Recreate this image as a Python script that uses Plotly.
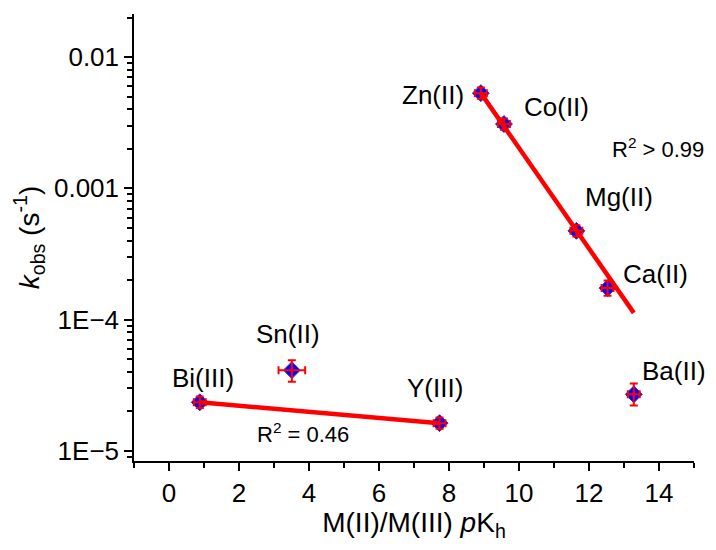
import numpy as np
import plotly.graph_objects as go

# ---- data ----
metals = ["Bi(III)", "Sn(II)", "Y(III)", "Zn(II)", "Co(II)", "Mg(II)", "Ca(II)", "Ba(II)"]
pKh = [0.88, 3.51, 7.73, 8.91, 9.57, 11.64, 12.53, 13.28]
kobs = [2.35e-5, 4.13e-5, 1.63e-5, 5.31e-3, 3.09e-3, 4.75e-4, 1.74e-4, 2.70e-5]
kobs_err_plus = [0.25e-5, 0.79e-5, 0.17e-5, 0.55e-3, 0.32e-3, 0.5e-4, 0.25e-4, 0.57e-5]
kobs_err_minus = [0.22e-5, 0.76e-5, 0.15e-5, 0.5e-3, 0.29e-3, 0.45e-4, 0.22e-4, 0.48e-5]
pKh_err = [0.17, 0.38, 0.17, 0.17, 0.17, 0.17, 0.17, 0.17]

# linear fits in log10(k) = intercept + slope * pKh
fit_hi_slope, fit_hi_intercept = -0.383, 1.138
fit_hi_x = [8.91, 13.28]
fit_lo_slope, fit_lo_intercept = -0.0232, -4.609
fit_lo_x = [0.88, 7.73]

r2_labels = ["R<sup>2</sup> &gt; 0.99", "R<sup>2</sup> = 0.46"]

x_tickvals = [0, 2, 4, 6, 8, 10, 12, 14]
y_tickvals = [1e-5, 1e-4, 1e-3, 1e-2]
y_ticktext = ["1E\u22125", "1E\u22124", "0.001", "0.01"]

# ---- annotation placement (layout) ----
label_pos = {
    "Bi(III)": (0.97, -4.447), "Sn(II)": (3.39, -4.106), "Y(III)": (7.59, -4.523),
    "Zn(II)": (7.53, -2.288), "Co(II)": (11.08, -2.379), "Mg(II)": (12.85, -3.068),
    "Ca(II)": (13.89, -3.652), "Ba(II)": (14.42, -4.394),
}
r2_pos = [(13.98, -2.689), (3.84, -4.864)]

FONT = "Liberation Sans, Arial, sans-serif"
FS = 26
FS_TITLE = 28

fig = go.Figure()

# markers
fig.add_trace(go.Scatter(
    x=pKh, y=kobs, mode="markers",
    marker=dict(symbol="diamond", size=13, color="#0000ff",
                line=dict(color="#3a2fd0", width=1)),
    showlegend=False, hoverinfo="skip"))

# error bars on top of markers
fig.add_trace(go.Scatter(
    x=pKh, y=kobs, mode="markers",
    marker=dict(size=1, color="rgba(0,0,0,0)"),
    error_y=dict(type="data", array=kobs_err_plus, arrayminus=kobs_err_minus,
                 symmetric=False, color="#ff0000", thickness=2, width=4),
    error_x=dict(type="data", array=pKh_err, color="#ff0000", thickness=2, width=4),
    showlegend=False, hoverinfo="skip"))

# fit lines
for xs, m, b in [(fit_hi_x, fit_hi_slope, fit_hi_intercept),
                 (fit_lo_x, fit_lo_slope, fit_lo_intercept)]:
    xs = np.array(xs)
    fig.add_trace(go.Scatter(
        x=xs, y=10 ** (b + m * xs), mode="lines",
        line=dict(color="#ff0000", width=4.5),
        showlegend=False, hoverinfo="skip"))

annotations = []
for name in metals:
    ax_, ay_ = label_pos[name]
    annotations.append(dict(x=ax_, y=ay_, xref="x", yref="y", text=name,
                            showarrow=False, font=dict(size=FS, color="black", family=FONT)))
for txt, (ax_, ay_) in zip(r2_labels, r2_pos):
    annotations.append(dict(x=ax_, y=ay_, xref="x", yref="y", text=txt,
                            showarrow=False, font=dict(size=FS - 4, color="black", family=FONT)))

minor_y = [f * 10.0 ** e for e in range(-6, -1) for f in range(2, 10)]

# the page body adds an 8px margin; the figure is sized to avoid scrollbars and
# its margins place the plot area where the reference has it
fig.update_layout(
    width=700, height=534,
    margin=dict(l=126, r=14, t=6, b=79),
    paper_bgcolor="white", plot_bgcolor="white",
    font=dict(family=FONT, size=FS, color="black"),
    annotations=annotations,
    xaxis=dict(
        range=[-1, 15], tickvals=x_tickvals, showgrid=False, zeroline=False,
        showline=True, linecolor="black", linewidth=1.5,
        ticks="outside", ticklen=8, tickwidth=1.5, tickcolor="black",
        minor=dict(dtick=1, tick0=0, ticks="outside", ticklen=5, tickwidth=1.5, tickcolor="black"),
        tickfont=dict(size=FS, family=FONT),
        title=dict(text="M(II)/M(III) <i>p</i>K<sub>h</sub>", font=dict(size=FS_TITLE, family=FONT), standoff=8),
    ),
    yaxis=dict(
        type="log", range=[-5.076, -1.672], tickvals=y_tickvals, ticktext=y_ticktext,
        showgrid=False, zeroline=False,
        showline=True, linecolor="black", linewidth=1.5,
        ticks="outside", ticklen=8, tickwidth=1.5, tickcolor="black",
        minor=dict(tickvals=minor_y, ticks="outside", ticklen=5, tickwidth=1.5, tickcolor="black"),
        tickfont=dict(size=FS, family=FONT),
        title=dict(text="<i>k</i><sub>obs</sub> (s<sup>-1</sup>)", font=dict(size=FS_TITLE, family=FONT), standoff=6),
    ),
)

fig.write_html("out.html")
